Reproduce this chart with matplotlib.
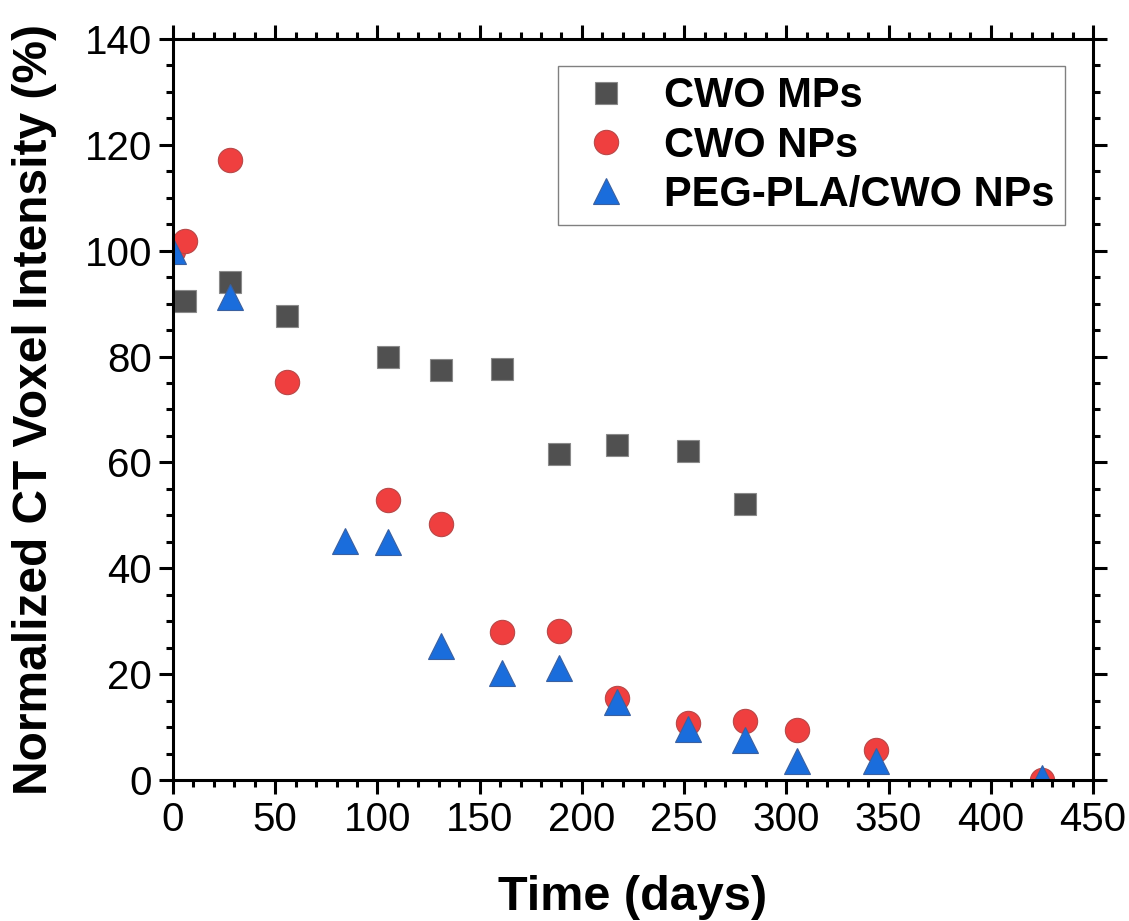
import matplotlib
matplotlib.use("Agg")
import matplotlib.pyplot as plt
from matplotlib.ticker import MultipleLocator

plt.rcParams['font.family'] = ['Liberation Sans', 'DejaVu Sans']

# CWO MPs
mp_days = [6, 28, 56, 105, 131, 161, 189, 217, 252, 280]
mp_vals = [90.4, 94.1, 87.7, 79.9, 77.5, 77.7, 61.6, 63.2, 62.1, 52.2]
# CWO NPs
np_days = [0, 6, 28, 56, 105, 131, 161, 189, 217, 252, 280, 305, 344, 425]
np_vals = [100, 101.9, 117.1, 75.2, 52.9, 48.4, 28.0, 28.2, 15.4, 10.7, 11.2, 9.4, 5.7, 0]
# PEG-PLA/CWO NPs
peg_days = [0, 28, 84, 105, 131, 161, 189, 217, 252, 280, 305, 344, 425]
peg_vals = [100, 91.2, 45.1, 44.9, 25.4, 20.2, 21.2, 14.8, 9.6, 7.5, 3.6, 3.5, 0.3]

fig = plt.figure(figsize=(11.29, 9.21), dpi=100)
ax = fig.add_axes([0.1532, 0.1531, 0.8149, 0.8046])

ax.plot(mp_days, mp_vals, ls='none', marker='s', ms=16, mfc='#505050',
        mec='#8a8a8a', mew=0.8, label='CWO MPs')
ax.plot(np_days, np_vals, ls='none', marker='o', ms=17.5, mfc='#ef3f3f',
        mec='#b84848', mew=0.8, label='CWO NPs')
ax.plot(peg_days, peg_vals, ls='none', marker='^', ms=19, mfc='#1a6ddc',
        mec='#3a60a0', mew=0.8, label='PEG-PLA/CWO NPs')

ax.set_xlim(0, 450)
ax.set_ylim(0, 140)
ax.xaxis.set_major_locator(MultipleLocator(50))
ax.xaxis.set_minor_locator(MultipleLocator(10))
ax.yaxis.set_major_locator(MultipleLocator(20))
ax.yaxis.set_minor_locator(MultipleLocator(5))

for s in ax.spines.values():
    s.set_linewidth(2.2)
ax.tick_params(which='both', direction='out', top=True, right=True, width=2.2)
ax.tick_params(which='major', length=10, labelsize=29, pad=5)
ax.tick_params(which='minor', length=5)

ax.set_xlabel('Time (days)', fontsize=35, fontweight='bold', labelpad=26)
ax.set_ylabel('Normalized CT Voxel Intensity (%)', fontsize=34.5, fontweight='bold', labelpad=20)

leg = ax.legend(loc='upper right', bbox_to_anchor=(0.9696, 0.9636), borderaxespad=0,
                fancybox=False, edgecolor='#808080', framealpha=1,
                prop={'size': 30, 'weight': 'bold'}, borderpad=0.25,
                handlelength=1.8, handletextpad=0.5, labelspacing=0.22)
leg.get_frame().set_linewidth(1.0)

fig.savefig('out.png', dpi=100)
